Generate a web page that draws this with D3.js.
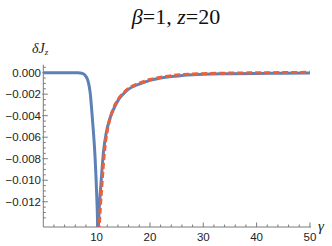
<!DOCTYPE html>
<html><head><meta charset="utf-8">
<script src="https://cdn.jsdelivr.net/npm/d3@7"></script>
<style>body{margin:0;background:#fff}svg{display:block}</style>
</head><body>
<script>
const gammaBlue = [0,5,6.5,7.2,7.6,8.0,8.4,8.8,9.1,9.4,9.7,9.9,10.1,10.25,10.5,10.8,11.3,11.8,12.4,13,14,15,16,17,18,19,20,22,24,26,28,30,35,40,45,50];
const valBlue   = [0,0,-0.00001,-0.00005,-0.00014,-0.00035,-0.0008,-0.0019,-0.0036,-0.0055,-0.0078,-0.0099,-0.0125,-0.0148,-0.0125,-0.0104,-0.0073,-0.0056,-0.0044,-0.0036,-0.0026,-0.00198,-0.00153,-0.00126,-0.00106,-0.00088,-0.00072,-0.0005,-0.00036,-0.00027,-0.0002,-0.00015,-0.0001,-0.00007,-0.00005,-0.00003];
const gammaRed = [10.45,10.7,11.0,11.5,12.0,12.5,13,14,15,16,17,18,19,20,22,24,26,28,30,35,40,45,50];
const valRed   = [-0.0148,-0.0125,-0.0104,-0.0072,-0.0054,-0.0043,-0.0035,-0.0025,-0.0019,-0.00145,-0.00118,-0.00098,-0.0008,-0.00064,-0.00042,-0.00028,-0.00019,-0.00013,-0.00009,-0.00004,-0.00001,0.00001,0.00003];
const xTicks = [10,20,30,40,50];
const yTicks = [0,-0.002,-0.004,-0.006,-0.008,-0.010,-0.012];

const W=332,H=246;
const svg=d3.select("body").append("svg").attr("width",W).attr("height",H);
const x=d3.scaleLinear().domain([0,50.2]).range([43.3,311]);
const y=d3.scaleLinear().domain([-0.01435,0.00074]).range([227,64.7]);

svg.append("defs").append("clipPath").attr("id","c").append("rect")
  .attr("x",x(0)).attr("y",y(0.00074)).attr("width",x(50.2)-x(0)).attr("height",y(-0.01435)-y(0.00074));

const axisCol="#7a7a7a";
// x axis
svg.append("line").attr("x1",x(0)).attr("x2",x(50.2)).attr("y1",y(-0.01435)).attr("y2",y(-0.01435)).attr("stroke",axisCol).attr("stroke-width",1);
const xMinor=d3.range(2,51,2).filter(v=>v%10!==0);
xMinor.forEach(v=>svg.append("line").attr("x1",x(v)).attr("x2",x(v)).attr("y1",y(-0.01435)).attr("y2",y(-0.01435)-2.5).attr("stroke",axisCol));
xTicks.forEach(v=>{
  svg.append("line").attr("x1",x(v)).attr("x2",x(v)).attr("y1",y(-0.01435)).attr("y2",y(-0.01435)-4.5).attr("stroke",axisCol);
  svg.append("text").attr("x",x(v)).attr("y",241).attr("text-anchor","middle")
    .attr("font-family","Liberation Sans, Arial, sans-serif").attr("font-size",11.5).attr("fill","#222").text(d3.format("d")(v));
});
// y axis
svg.append("line").attr("x1",x(0)).attr("x2",x(0)).attr("y1",y(0.00074)).attr("y2",y(-0.01435)).attr("stroke",axisCol);
const yMinor=d3.range(0.0005,-0.0144,-0.0005).filter(v=>Math.abs(Math.round(v*10000))%20!==0);
yMinor.forEach(v=>svg.append("line").attr("x1",x(0)).attr("x2",x(0)+2.5).attr("y1",y(v)).attr("y2",y(v)).attr("stroke",axisCol));
yTicks.forEach(v=>{
  svg.append("line").attr("x1",x(0)-1).attr("x2",x(0)+4.5).attr("y1",y(v)).attr("y2",y(v)).attr("stroke",axisCol);
  svg.append("text").attr("x",41).attr("y",y(v)+4).attr("text-anchor","end")
    .attr("font-family","Liberation Sans, Arial, sans-serif").attr("font-size",11.5).attr("fill","#222")
    .text(d3.format(".3f")(v).replace("-","\u2212"));
});

const line=d3.line().x(d=>x(d[0])).y(d=>y(d[1])).curve(d3.curveMonotoneX);
const g=svg.append("g").attr("clip-path","url(#c)");
g.append("path").datum(gammaBlue.map((v,i)=>[v,valBlue[i]])).attr("d",line)
  .attr("fill","none").attr("stroke","#5E81B5").attr("stroke-width",3);
g.append("path").datum(gammaRed.map((v,i)=>[v,valRed[i]])).attr("d",line)
  .attr("fill","none").attr("stroke","#E8603C").attr("stroke-width",3).attr("stroke-dasharray","6,3");

// labels
svg.append("text").attr("x",176).attr("y",24).attr("text-anchor","middle")
  .attr("font-family","Liberation Serif, Times New Roman, serif").attr("font-size",22).attr("fill","#111")
  .html('<tspan font-style="italic">β</tspan>=1, <tspan font-style="italic">z</tspan>=20');
const yl=svg.append("text").attr("x",32).attr("y",53)
  .attr("font-family","Liberation Serif, Times New Roman, serif").attr("font-size",14).attr("font-style","italic").attr("fill","#222");
yl.append("tspan").text("δJ");
yl.append("tspan").attr("font-size",9).attr("dy",2).text("z");
svg.append("text").attr("x",318).attr("y",231)
  .attr("font-family","Liberation Serif, Times New Roman, serif").attr("font-size",15).attr("font-style","italic").attr("fill","#222").text("γ");
</script>
</body></html>
